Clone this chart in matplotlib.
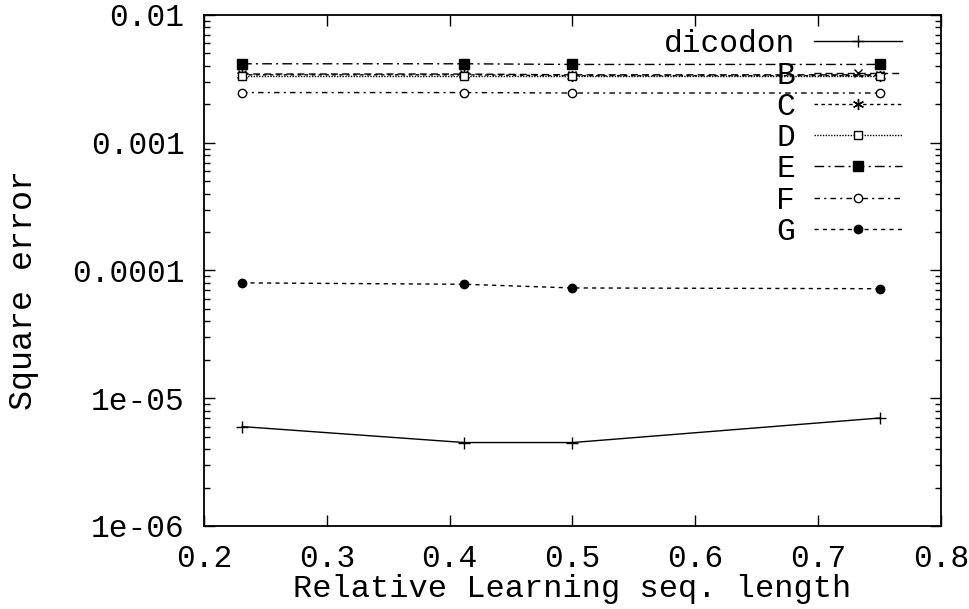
import matplotlib
matplotlib.use("Agg")
import matplotlib.pyplot as plt
from matplotlib.ticker import FixedLocator, NullFormatter, NullLocator

x = [0.231, 0.412, 0.5, 0.75]
dicodon = [6.0e-6, 4.5e-6, 4.5e-6, 7.0e-6]
B = [3.45e-3, 3.45e-3, 3.4e-3, 3.4e-3]
C = [3.4e-3, 3.4e-3, 3.35e-3, 3.35e-3]
D = [3.3e-3, 3.3e-3, 3.3e-3, 3.3e-3]
E = [4.15e-3, 4.15e-3, 4.1e-3, 4.1e-3]
F = [2.47e-3, 2.47e-3, 2.45e-3, 2.45e-3]
G = [8.0e-5, 7.8e-5, 7.3e-5, 7.2e-5]

xticks = [0.2, 0.3, 0.4, 0.5, 0.6, 0.7, 0.8]
yticks = [1e-6, 1e-5, 1e-4, 1e-3, 1e-2]
yticklabels = ["1e-06", "1e-05", "0.0001", "0.001", "0.01"]

mono = "Liberation Mono"
fs = 22.5
lfs = 23

fig = plt.figure(figsize=(9.7, 6.09), dpi=100)
ax = fig.add_axes([0.2103, 0.1363, 0.9701 - 0.2103, 0.9754 - 0.1363])

lw = 1.0
ax.plot(x, dicodon, color="black", lw=lw, ls="-", marker="+", ms=8, mew=1, label="dicodon")
ax.plot(x, B, color="black", lw=lw, ls=(0, (5, 3)), marker="x", ms=6, mew=1, label="B")
ax.plot(x, C, color="black", lw=lw, ls=(0, (2.5, 2.5)), marker=(6, 2, 0), ms=8, mew=1, label="C")
ax.plot(x, D, color="black", lw=lw, ls=(0, (1, 1)), marker="s", ms=6, mew=1, mfc="white", label="D")
ax.plot(x, E, color="black", lw=lw, ls=(0, (7, 3, 1.5, 3)), marker="s", ms=6.5, mew=1, mfc="black", label="E")
ax.plot(x, F, color="black", lw=lw, ls=(0, (4, 3, 1.5, 3)), marker="o", ms=6, mew=1, mfc="white", label="F")
ax.plot(x, G, color="black", lw=lw, ls=(0, (3, 3)), marker="o", ms=6, mew=1, mfc="black", label="G")

ax.set_yscale("log")
ax.set_xlim(0.2, 0.8)
ax.set_ylim(1e-6, 1e-2)

ax.xaxis.set_major_locator(FixedLocator(xticks))
ax.set_xticklabels([f"{t:.1f}" for t in xticks], fontfamily=mono, fontsize=fs)
ax.xaxis.set_minor_locator(NullLocator())
ax.yaxis.set_major_locator(FixedLocator(yticks))
ax.set_yticklabels(yticklabels, fontfamily=mono, fontsize=fs)
minors = [m * 10.0**e for e in range(-6, -2) for m in range(2, 10)]
ax.yaxis.set_minor_locator(FixedLocator(minors))
ax.yaxis.set_minor_formatter(NullFormatter())

ax.tick_params(which="major", direction="in", length=8, width=1, top=True, right=True, colors="black")
ax.tick_params(which="minor", direction="in", length=4, width=1, top=True, right=True)
ax.tick_params(axis="x", which="major", pad=13)
ax.tick_params(axis="y", which="major", pad=14)
for s in ax.spines.values():
    s.set_linewidth(1.3)

ax.set_xlabel("Relative Learning seq. length", fontfamily=mono, fontsize=lfs, labelpad=0)
ax.set_ylabel("Square error", fontfamily=mono, fontsize=lfs + 1, labelpad=24)
ax.yaxis.label.set_y(0.462)

leg = ax.legend(loc="upper right", bbox_to_anchor=(0.947, 0.972), frameon=False,
                markerfirst=False, handlelength=2.8, handletextpad=0.62,
                labelspacing=0.04, borderpad=0, borderaxespad=0,
                prop={"family": mono, "size": fs}, numpoints=1)
for t in leg.get_texts():
    t.set_ha("right")

fig.savefig("out.png", dpi=100, facecolor="white")
